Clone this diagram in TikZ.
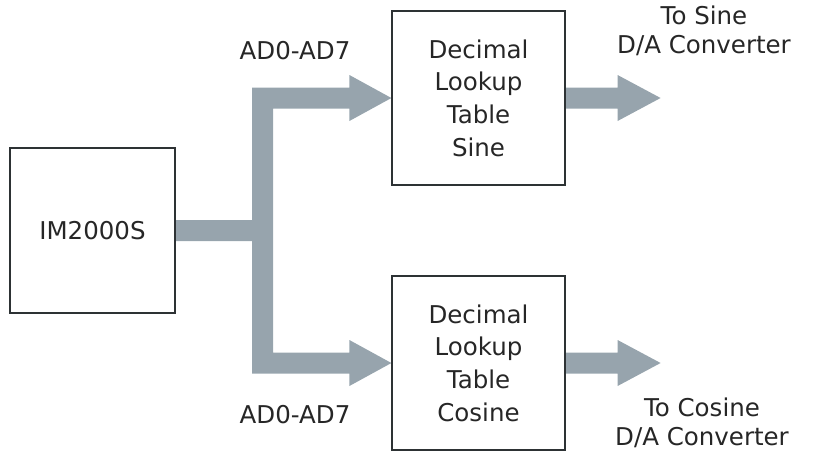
\documentclass[tikz,border=0pt]{standalone}
\usepackage{fontspec}
\setmainfont{DejaVu Sans}
\usetikzlibrary{calc,backgrounds}
\definecolor{busgray}{RGB}{151,164,173}
\definecolor{boxline}{RGB}{45,50,52}
\definecolor{textcol}{RGB}{38,38,38}
\begin{document}
\begin{tikzpicture}[x=1pt,y=-1pt,
  blk/.style={draw=boxline,line width=1.2pt,minimum width=173pt,minimum height=174pt,
    inner sep=0pt,align=center,text=textcol,font=\fontsize{24.5}{32.7}\selectfont},
  lbl/.style={align=center,inner sep=0pt,text=textcol,font=\fontsize{24.5}{29}\selectfont},
  bus/.style={fill=busgray}]
\useasboundingbox (0,0) rectangle (817,451);
\node[blk,minimum width=165pt,minimum height=165pt] (im) at (92.5,230.5) {IM2000S};
\node[blk] (sin) at (478.5,98) {Decimal\\Lookup\\Table\\Sine};
\node[blk] (cos) at (478.5,363) {Decimal\\Lookup\\Table\\Cosine};
\coordinate (j) at (262.5,230.5);
\coordinate (sinout) at ($(sin.east)+(95,0)$);
\coordinate (cosout) at ($(cos.east)+(95,0)$);
\begin{scope}[on background layer]
\fill[bus] ($(im.east)+(0,-10.5)$) -- ($(j)+(-10.5,-10.5)$)
  -- ($(j|-sin.west)+(-10.5,-10.5)$) -- ($(sin.west)+(-42,-10.5)$)
  -- ($(sin.west)+(-42,-23)$) -- (sin.west) -- ($(sin.west)+(-42,23)$)
  -- ($(sin.west)+(-42,10.5)$) -- ($(j|-sin.west)+(10.5,10.5)$)
  -- ($(j|-cos.west)+(10.5,-10.5)$) -- ($(cos.west)+(-42,-10.5)$)
  -- ($(cos.west)+(-42,-23)$) -- (cos.west) -- ($(cos.west)+(-42,23)$)
  -- ($(cos.west)+(-42,10.5)$) -- ($(j|-cos.west)+(-10.5,10.5)$)
  -- ($(j)+(-10.5,10.5)$) -- ($(im.east)+(0,10.5)$) -- cycle;
\fill[bus] ($(sin.east)+(0,-10.5)$) -- ($(sin.east)+(52,-10.5)$)
  -- ($(sin.east)+(52,-23)$) -- (sinout) -- ($(sin.east)+(52,23)$)
  -- ($(sin.east)+(52,10.5)$) -- ($(sin.east)+(0,10.5)$) -- cycle;
\fill[bus] ($(cos.east)+(0,-10.5)$) -- ($(cos.east)+(52,-10.5)$)
  -- ($(cos.east)+(52,-23)$) -- (cosout) -- ($(cos.east)+(52,23)$)
  -- ($(cos.east)+(52,10.5)$) -- ($(cos.east)+(0,10.5)$) -- cycle;
\end{scope}
\node[lbl] (adtop) at (295,50.5) {AD0-AD7};
\node[lbl] (adbot) at (295,415) {AD0-AD7};
\node[lbl] (sinlbl) at (704,30.5) {To Sine\\D/A Converter};
\node[lbl] (coslbl) at (702,423) {To Cosine\\D/A Converter};
\end{tikzpicture}
\end{document}
